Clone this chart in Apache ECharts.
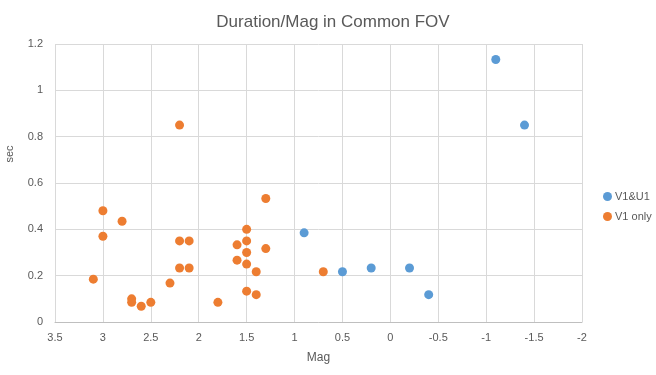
<!DOCTYPE html>
<html>
<head>
<meta charset="utf-8">
<script src="https://cdn.jsdelivr.net/npm/echarts@6/dist/echarts.min.js"></script>
<style>
  html, body { margin: 0; padding: 0; background: #fff; }
  #chart-container { width: 656px; height: 375px; }
</style>
</head>
<body>
<div id="chart-container"></div>
<script>
// V1&U1 detections: [mag, sec]
const bothMag = [0.9, 0.5, 0.2, -0.2, -0.4, -1.1, -1.4];
const bothSec = [0.385, 0.217, 0.233, 0.233, 0.118, 1.133, 0.85];

// V1 only detections
const v1Mag = [3.1, 3.0, 3.0, 2.8, 2.7, 2.7, 2.6, 2.5, 2.3, 2.2, 2.2, 2.2, 2.1, 2.1, 1.8,
  1.6, 1.6, 1.5, 1.5, 1.5, 1.5, 1.5, 1.4, 1.4, 1.3, 1.3, 0.7];
const v1Sec = [0.185, 0.48, 0.37, 0.435, 0.10, 0.085, 0.068, 0.085, 0.168, 0.85, 0.35, 0.233, 0.35, 0.233, 0.085,
  0.333, 0.267, 0.40, 0.35, 0.30, 0.25, 0.133, 0.217, 0.118, 0.533, 0.317, 0.217];

const zip = (xs, ys) => xs.map((x, i) => [x, ys[i]]);

const dom = document.getElementById('chart-container');
const myChart = echarts.init(dom, null, { renderer: 'canvas' });

const textColor = '#595959';
const font = 'Liberation Sans, Arial, sans-serif';

const option = {
  animation: false,
  textStyle: { fontFamily: font },
  title: {
    text: 'Duration/Mag in Common FOV',
    left: 328,
    textAlign: 'center',
    top: 9,
    textStyle: { color: textColor, fontSize: 17, fontWeight: 'normal', fontFamily: font },
  },
  legend: {
    orient: 'vertical',
    left: 598,
    top: 186,
    itemWidth: 9,
    itemHeight: 9,
    itemGap: 9,
    icon: 'circle',
    textStyle: { color: textColor, fontSize: 11, fontFamily: font, padding: [0, 0, 0, -2] },
  },
  grid: { left: 55, right: 74, top: 44, bottom: 53, outerBoundsMode: 'none', containLabel: false },
  xAxis: {
    type: 'value',
    inverse: true,
    min: -2,
    max: 3.5,
    interval: 0.5,
    name: 'Mag',
    nameLocation: 'middle',
    nameGap: 30,
    nameTextStyle: { color: textColor, fontSize: 12 },
    axisLine: { show: true, onZero: false, lineStyle: { color: '#bfbfbf' } },
    axisTick: { show: false },
    axisLabel: { color: textColor, fontSize: 11, margin: 10 },
    splitLine: { show: true, lineStyle: { color: '#d9d9d9' } },
  },
  yAxis: {
    type: 'value',
    min: 0,
    max: 1.2,
    interval: 0.2,
    name: 'sec',
    nameLocation: 'middle',
    nameGap: 40,
    nameTextStyle: { color: textColor, fontSize: 11, padding: [0, 0, 0, 58] },
    axisLine: { show: false },
    axisTick: { show: false },
    axisLabel: { color: textColor, fontSize: 11, margin: 12 },
    splitLine: { show: true, lineStyle: { color: '#d9d9d9' } },
  },
  series: [
    {
      name: 'V1&U1',
      type: 'scatter',
      symbolSize: 9,
      itemStyle: { color: '#5b9bd5', opacity: 1 },
      data: zip(bothMag, bothSec),
    },
    {
      name: 'V1 only',
      type: 'scatter',
      symbolSize: 9,
      itemStyle: { color: '#ed7d31', opacity: 1 },
      data: zip(v1Mag, v1Sec),
    },
  ],
};

myChart.setOption(option);
window.addEventListener('resize', myChart.resize);
</script>
</body>
</html>
